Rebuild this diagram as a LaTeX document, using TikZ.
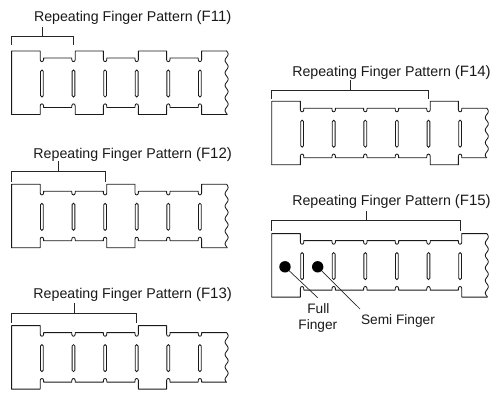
\documentclass[tikz,border=0pt]{standalone}
\usepackage{fontspec}
\setmainfont{Liberation Sans}
\tikzset{
  outl/.style={line width=0.85pt, draw=black!90, line join=round, line cap=round},
  slotbox/.style={line width=0.85pt, draw=black!90, rounded corners=1.4pt},
  brk/.style={line width=0.8pt, draw=black!85},
  ttl/.style={font=\fontsize{14.2}{16}\selectfont, inner sep=0pt, anchor=base, text=black!90},
  lbl/.style={font=\fontsize{13.7}{16}\selectfont, inner sep=0pt, text=black!90},
  dotn/.style={circle, fill=black, inner sep=0pt, minimum size=11.4pt},
  leader/.style={line width=0.7pt, draw=black!85},
}
\newcommand\bigp[1]{{\fontsize{15}{17}\selectfont #1}}
% #1 x0, #2 y0, #3 notch list k/left/right (0 full, 1 semi), #4 type of last segment
\newcommand\fstrip[4]{%
  \pgfmathsetmacro\xo{#1}\pgfmathsetmacro\yo{#2}%
  \pgfmathsetmacro\xr{#1+215}%
  \draw[outl] (\xo,{\yo+63.5}) -- (\xo,\yo)
    foreach \nk/\nl/\nr in {#3} {
      -- ({\xo+30.3+31.6*\nk-1.7},{\yo+7*\nl})
      -- ({\xo+30.3+31.6*\nk-1.7},{\yo+8.6})
      .. controls ({\xo+30.3+31.6*\nk-1.7},{\yo+11.3}) and ({\xo+30.3+31.6*\nk+1.7},{\yo+11.3}) .. ({\xo+30.3+31.6*\nk+1.7},{\yo+8.6})
      -- ({\xo+30.3+31.6*\nk+1.7},{\yo+7*\nr})
    } -- (\xr,{\yo+7*#4});
  \draw[outl] (\xo,{\yo+63.5})
    foreach \nk/\nl/\nr in {#3} {
      -- ({\xo+30.3+31.6*\nk-1.7},{\yo+63.5-7*\nl})
      -- ({\xo+30.3+31.6*\nk-1.7},{\yo+54.9})
      .. controls ({\xo+30.3+31.6*\nk-1.7},{\yo+52.2}) and ({\xo+30.3+31.6*\nk+1.7},{\yo+52.2}) .. ({\xo+30.3+31.6*\nk+1.7},{\yo+54.9})
      -- ({\xo+30.3+31.6*\nk+1.7},{\yo+63.5-7*\nr})
    } -- (\xr,{\yo+63.5-7*#4});
  \pgfmathsetmacro\yt{\yo+7*#4}\pgfmathsetmacro\yb{\yo+63.5-7*#4}%
  \pgfmathsetmacro\nwave{(\yb-\yt)/12.5}%
  \draw[outl] plot[domain=0:1,samples=90,smooth] ({\xr+1.5*sin(\x*\nwave*360)},{\yt+\x*(\yb-\yt)});
  \foreach \nk in {0,...,5}
    \draw[slotbox] ({\xo+30.3+31.6*\nk-1.4},{\yo+19}) rectangle ({\xo+30.3+31.6*\nk+1.4},{\yo+46});
}
% #1 left x, #2 right x, #3 bar y, #4 tick bottom y, #5 stem top y
\newcommand\fbracket[5]{%
  \draw[brk] (#1,#4) -- (#1,#3) -- (#2,#3) -- (#2,#4);
  \draw[brk] ({(#1+#2)/2},#3) -- ({(#1+#2)/2},#5);
}
\begin{document}
\begin{tikzpicture}[x=1pt,y=-1pt]
\useasboundingbox (0,0) rectangle (500,393);

% F11
\node[ttl] (t11) at (132.7,21.7) {Repeating Finger Pattern \bigp{(F11)}};
\fbracket{11.6}{73.5}{36}{45}{27}
\fstrip{11.6}{51}{0/0/1,1/1/0,2/0/1,3/1/0,4/0/1,5/1/0}{0}

% F12
\node[ttl] (t12) at (132.7,158.3) {Repeating Finger Pattern \bigp{(F12)}};
\fbracket{11.6}{105}{171}{181.5}{160.7}
\fstrip{11.6}{184.3}{0/0/1,1/1/1,2/1/0,3/0/1,4/1/1,5/1/0}{0}

% F13
\node[ttl] (t13) at (132.7,298.3) {Repeating Finger Pattern \bigp{(F13)}};
\fbracket{11.6}{136.6}{313.3}{322.7}{302.7}
\fstrip{11.6}{325.6}{0/0/1,1/1/1,2/1/1,3/1/0,4/0/1,5/1/1}{1}

% F14
\node[ttl] (t14) at (391.5,76.7) {Repeating Finger Pattern \bigp{(F14)}};
\fbracket{271.8}{428.4}{90}{99}{80}
\fstrip{271.8}{101.2}{0/0/1,1/1/1,2/1/1,3/1/1,4/1/0,5/0/1}{1}

% F15
\node[ttl] (t15) at (391.5,205) {Repeating Finger Pattern \bigp{(F15)}};
\fbracket{271.8}{460}{220.7}{230.7}{210.7}
\fstrip{271.8}{233.6}{0/0/1,1/1/1,2/1/1,3/1/1,4/1/1,5/1/0}{0}

% dots and labels
\coordinate (e1) at (317.7,297.7);
\coordinate (e2) at (360,309);
\draw[leader] (285,266.8) -- (e1);
\draw[leader] (317.7,266.8) -- (e2);
\node[dotn] (d1) at (285,266.8) {};
\node[dotn] (d2) at (317.7,266.8) {};
\node[lbl, anchor=base] (full) at (318.3,313.3) {Full};
\node[lbl, anchor=base] (fing) at (317.8,329.7) {Finger};
\node[lbl, anchor=base west] (semi) at (360.8,324.2) {Semi Finger};
\end{tikzpicture}
\end{document}
